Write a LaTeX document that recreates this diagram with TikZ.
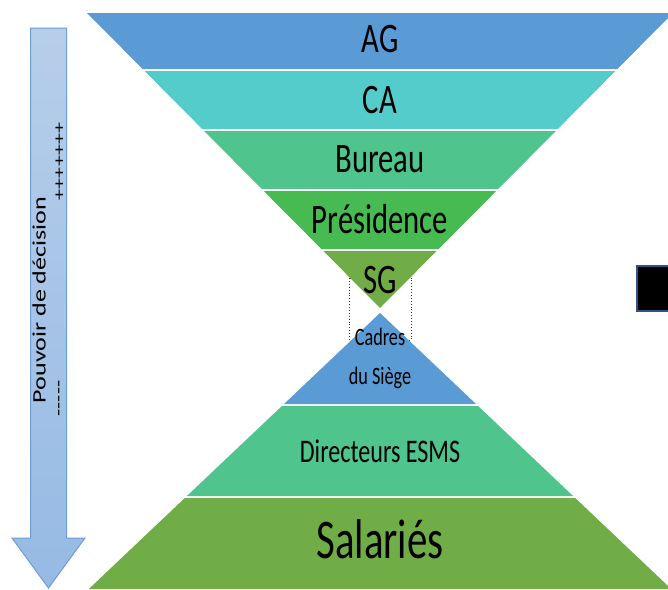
\documentclass[tikz,border=0pt]{standalone}
\usepackage{fontspec}
\setmainfont{Carlito}
\newfontfamily\labfont[FakeStretch=0.73]{Carlito}
\newfontfamily\arrfont[FakeStretch=1.37]{Carlito}
\definecolor{cBlue}{RGB}{91,155,213}
\definecolor{cTeal}{RGB}{84,204,204}
\definecolor{cMint}{RGB}{79,196,140}
\definecolor{cGreen}{RGB}{71,186,82}
\definecolor{cOlive}{RGB}{112,173,71}
\definecolor{arrTop}{RGB}{183,206,234}
\definecolor{arrBot}{RGB}{150,186,228}
\definecolor{arrLine}{RGB}{108,158,215}
\definecolor{boxLine}{RGB}{47,82,143}
\tikzset{
  band/.style={draw=none},
  lab/.style={font=\labfont, anchor=base, inner sep=0pt, text=black},
  arrtxt/.style={rotate=90, anchor=base, inner sep=0pt, text=black},
}
\begin{document}
\begin{tikzpicture}[x=1pt,y=-1pt]
\useasboundingbox (0,0) rectangle (668,589);
\clip (0,0) rectangle (668,589);
% power arrow
\path[shade, top color=arrTop, bottom color=arrBot, draw=arrLine, line width=1pt, line join=miter]
  (30.5,28) -- (66.5,28) -- (66.5,538) -- (85,538) -- (48.5,588) -- (12,538) -- (30.5,538) -- cycle;
\node[arrtxt, font=\arrfont\fontsize{19}{19}\selectfont] (pouvoir) at (45.5,300) {Pouvoir de décision};
\node[arrtxt, font=\arrfont\fontsize{16}{16}\selectfont] (plus) at (64.3,161.5) {+++++++};
\node[arrtxt, font=\arrfont\fontsize{17}{17}\selectfont] (minus) at (63.6,398.5) {-----};
% dotted link
\draw[dotted, line width=0.9pt, black!80] (349,278) rectangle (411,340);
% top inverted triangle
\fill[cBlue]  (87,13) -- (673,13) -- (617.4,69) -- (142.6,69) -- cycle;
\fill[cTeal]  (144.6,71) -- (615.4,71) -- (557.8,129) -- (202.2,129) -- cycle;
\fill[cMint]  (204.2,131) -- (555.8,131) -- (498.2,189) -- (261.8,189) -- cycle;
\fill[cGreen] (263.8,191) -- (496.2,191) -- (438.6,249) -- (321.4,249) -- cycle;
\fill[cOlive] (323.4,251) -- (436.6,251) -- (380,308) -- cycle;
% bottom triangle
\fill[cBlue]  (380,313) -- (476,404) -- (284,404) -- cycle;
\fill[cMint]  (281.9,406) -- (478.1,406) -- (573.1,496) -- (186.9,496) -- cycle;
\fill[cOlive] (184.8,498) -- (575.2,498) -- (671.2,589) -- (88.8,589) -- cycle;
% labels
\node[lab, font=\labfont\fontsize{42}{42}\selectfont] (ag) at (380,52) {AG};
\node[lab, font=\labfont\fontsize{42}{42}\selectfont] (ca) at (380,113) {CA};
\node[lab, font=\labfont\fontsize{42}{42}\selectfont] (bureau) at (380,172) {Bureau};
\node[lab, font=\labfont\fontsize{42}{42}\selectfont] (pres) at (380,233) {Présidence};
\node[lab, font=\labfont\fontsize{42}{42}\selectfont] (sg) at (380,293) {SG};
\node[lab, font=\labfont\fontsize{25}{25}\selectfont] (cadres) at (380,345) {Cadres};
\node[lab, font=\labfont\fontsize{25}{25}\selectfont] (siege) at (380,384) {du Siège};
\node[lab, font=\labfont\fontsize{33}{33}\selectfont] (dir) at (380,462) {Directeurs ESMS};
\node[lab, font=\labfont\fontsize{56}{56}\selectfont] (sal) at (380,558) {Salariés};
% black box at right
\draw[fill=black, draw=boxLine, line width=2pt] (637,266) rectangle (675,311);
\end{tikzpicture}
\end{document}
